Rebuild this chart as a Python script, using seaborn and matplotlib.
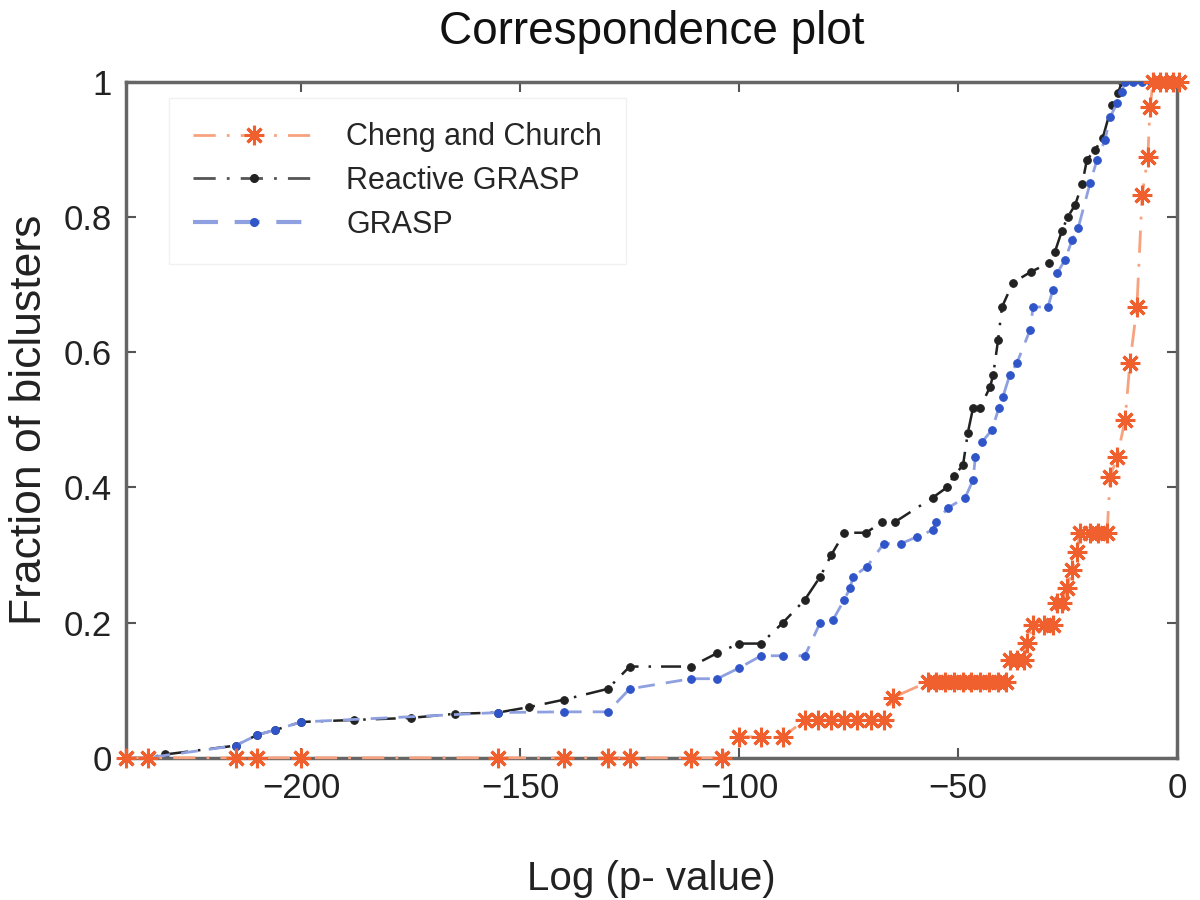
import matplotlib
matplotlib.use("Agg")
import matplotlib.pyplot as plt
import seaborn as sns
from matplotlib.lines import Line2D
from matplotlib.ticker import FuncFormatter

# Cheng and Church
cc_x = [-240, -235, -215, -210, -200, -155, -140, -130, -125, -111, -104,
        -100, -95, -90, -85, -82, -79, -76, -73, -70, -67, -65,
        -57, -55, -53, -51, -49, -47, -45, -43, -41, -39,
        -38.2, -36.5, -35, -34.3, -32.9, -30.5, -28.4, -27.4, -26.3, -25.2,
        -24, -22.9, -22.2, -20, -18, -16, -15.3, -13.7, -11.9, -10.8,
        -9.2, -8, -6.7, -6.2, -5.5, -4, -2.5, -1, 0.5]
cc_y = [0, 0, 0, 0, 0, 0, 0, 0, 0, 0, 0,
        0.031, 0.031, 0.031, 0.056, 0.056, 0.056, 0.056, 0.056, 0.056, 0.056, 0.089,
        0.112, 0.112, 0.112, 0.112, 0.112, 0.112, 0.112, 0.112, 0.112, 0.112,
        0.145, 0.145, 0.145, 0.17, 0.197, 0.197, 0.197, 0.229, 0.229, 0.251,
        0.278, 0.305, 0.333, 0.333, 0.333, 0.333, 0.416, 0.445, 0.5, 0.584,
        0.667, 0.833, 0.889, 0.963, 1.0, 1.0, 1.0, 1.0, 1.0]

# Reactive GRASP
rg_x = [-240, -235, -231, -215, -210, -206, -200, -188, -175, -165, -155, -148,
        -140, -130, -125, -111, -105, -100, -95, -90, -85, -81.5, -79, -76, -71,
        -67.4, -64.4, -55.8, -52.6, -51, -48.9, -47.8, -46.6, -45, -42.7, -42,
        -40.9, -40, -37.5, -33.4, -29.3, -27.9, -26.3, -25, -23.3, -21.7, -20.6,
        -18.8, -17, -14.9, -13.5, -12.6]
rg_y = [0, 0, 0.005, 0.018, 0.034, 0.041, 0.053, 0.056, 0.059, 0.065, 0.067, 0.075,
        0.086, 0.102, 0.135, 0.135, 0.155, 0.169, 0.169, 0.2, 0.234, 0.268, 0.3, 0.333, 0.333,
        0.349, 0.349, 0.385, 0.4, 0.417, 0.433, 0.481, 0.518, 0.518, 0.549, 0.567,
        0.618, 0.667, 0.703, 0.719, 0.732, 0.749, 0.78, 0.8, 0.818, 0.849, 0.885,
        0.899, 0.917, 0.966, 0.984, 1.0]

# GRASP
gr_x = [-240, -235, -215, -210, -206, -200, -155, -140, -130, -125, -111, -105,
        -100, -95, -90, -85, -81.5, -78.6, -76, -74.7, -74, -70.8, -67, -63,
        -59.4, -55.8, -55, -52.3, -48.4, -46.6, -46.1, -44.6, -42.3, -40.7, -39.8,
        -38.2, -36.6, -33.6, -32.9, -29.5, -28.4, -27.4, -25.6, -24, -22.6, -19.9,
        -18.3, -16.5, -15.3, -13.7, -12.6, -12, -10, -8, -6, -4, -2, 0]
gr_y = [0, 0, 0.018, 0.034, 0.041, 0.053, 0.067, 0.068, 0.068, 0.102, 0.117, 0.117,
        0.133, 0.151, 0.151, 0.151, 0.2, 0.204, 0.234, 0.251, 0.268, 0.283, 0.317, 0.317,
        0.327, 0.337, 0.349, 0.37, 0.385, 0.411, 0.445, 0.467, 0.485, 0.518, 0.534,
        0.567, 0.584, 0.633, 0.667, 0.667, 0.692, 0.717, 0.737, 0.766, 0.784, 0.85,
        0.885, 0.914, 0.948, 0.969, 0.985, 1.0, 1.0, 1.0, 1.0, 1.0, 1.0, 1.0]

labels = ["Cheng and Church", "Reactive GRASP", "GRASP"]
yticks = [0, 0.2, 0.4, 0.6, 0.8, 1]
xticks = [-200, -150, -100, -50, 0]

sns.set_theme(style="white")
plt.rcParams["font.family"] = ["Liberation Sans", "DejaVu Sans"]

fig = plt.figure(figsize=(12, 9), dpi=100)
ax = fig.add_axes([0.105, 0.158, 0.876, 0.751])

orange = "#f0602e"
orange_line = "#f7a27e"
black = "#222222"
blue = "#2f55c8"
blue_line = "#8ea0e0"
dashdot = (0, (8, 4, 1, 4))
asterisk = (8, 2, 0)

sns.lineplot(x=gr_x, y=gr_y, ax=ax, sort=False, estimator=None, color=blue_line,
             linestyle=(0, (6, 4)), linewidth=2, marker="o", markersize=5.5,
             markerfacecolor=blue, markeredgecolor=blue, zorder=3)
sns.lineplot(x=rg_x, y=rg_y, ax=ax, sort=False, estimator=None, color=black,
             linestyle=dashdot, linewidth=1.8, marker="o", markersize=5.5,
             markerfacecolor=black, markeredgecolor=black, zorder=2)
sns.lineplot(x=cc_x, y=cc_y, ax=ax, sort=False, estimator=None, color=orange_line,
             linestyle=dashdot, linewidth=2, marker=asterisk, markersize=14,
             markerfacecolor=orange, markeredgecolor=orange, markeredgewidth=2.2,
             zorder=4, clip_on=False)

ax.set_xlim(-240, 0)
ax.set_ylim(0, 1)
ax.set_xticks(xticks)
ax.set_yticks(yticks)
ax.yaxis.set_major_formatter(FuncFormatter(lambda v, _: f"{v:g}"))
ax.xaxis.set_major_formatter(FuncFormatter(lambda v, _: f"{v:g}".replace("-", "\u2212")))
ax.tick_params(direction="in", length=7, width=1.5, color="#555555",
               labelsize=25, labelcolor="#222222", top=True, right=True,
               bottom=True, left=True, pad=10)
for s in ax.spines.values():
    s.set_color("#666666")
    s.set_linewidth(2.5)

ax.set_title("Correspondence plot", fontsize=33, color="#111111", pad=27)
ax.set_xlabel("Log (p- value)", fontsize=29, color="#222222", labelpad=40)
ax.set_ylabel("Fraction of biclusters", fontsize=32, color="#222222", labelpad=10)

# legend handles mimic the MATLAB legend samples
handles = [
    Line2D([], [], color=orange_line, linestyle=dashdot, linewidth=2,
           marker=asterisk, markersize=14, markerfacecolor=orange,
           markeredgecolor=orange, markeredgewidth=2.2),
    Line2D([], [], color="#555555", linestyle=dashdot, linewidth=2,
           marker="o", markersize=5.5, markerfacecolor=black, markeredgecolor=black),
    Line2D([], [], color=blue_line, linestyle=(0, (6, 4)), linewidth=3,
           marker="o", markersize=5.5, markerfacecolor=blue, markeredgecolor=blue),
]
leg = ax.legend(handles, labels, loc="upper left", bbox_to_anchor=(0.032, 0.99),
                fontsize=22, handlelength=4, handletextpad=1.0, labelspacing=0.45,
                borderpad=0.8, borderaxespad=0.3, frameon=True, fancybox=False)
leg.get_frame().set_edgecolor("#eeeeee")
leg.get_frame().set_linewidth(1)

fig.savefig("out.png", dpi=100)
